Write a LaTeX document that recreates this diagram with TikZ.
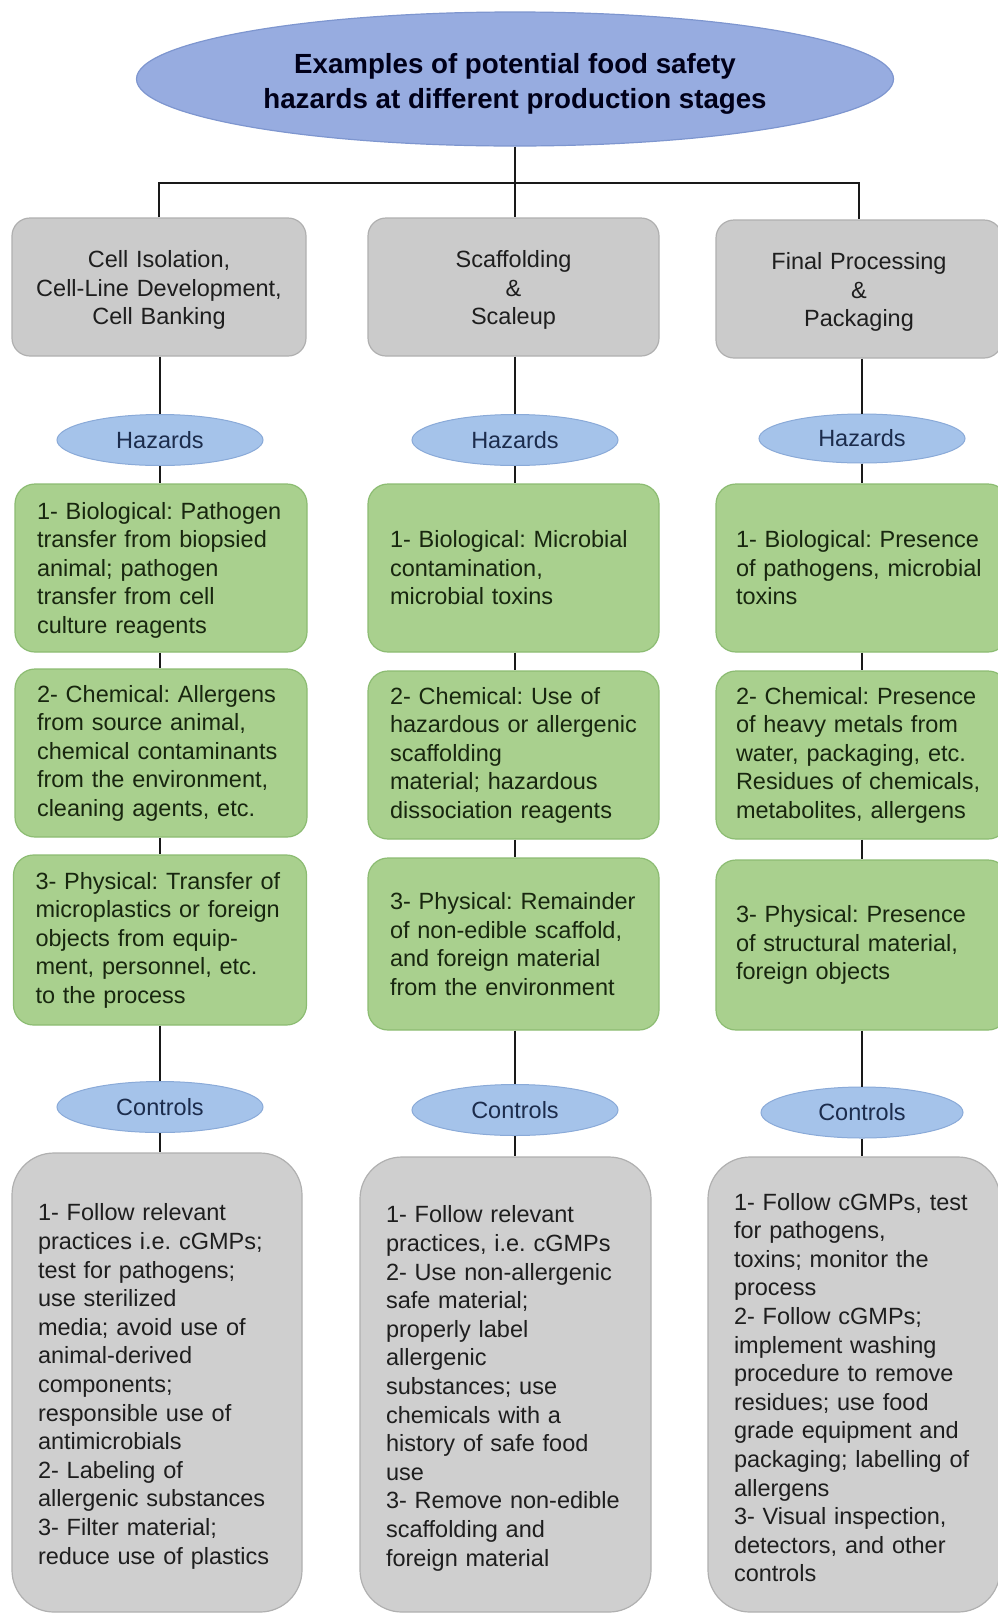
\documentclass[tikz,border=0pt]{standalone}
\usepackage{fontspec}
\setmainfont{Liberation Sans}
\usetikzlibrary{shapes.geometric}
\frenchspacing
\hyphenpenalty=10000
\exhyphenpenalty=10000

\definecolor{titlefill}{HTML}{97ACE0}
\definecolor{titleline}{HTML}{7E96CF}
\definecolor{ovalfill}{HTML}{A5C3EA}
\definecolor{ovalline}{HTML}{8AAAD8}
\definecolor{ovaltext}{HTML}{1C2C4C}
\definecolor{greyfill}{HTML}{CBCBCB}
\definecolor{greyline}{HTML}{B0B0B0}
\definecolor{greenfill}{HTML}{A9D08E}
\definecolor{greenline}{HTML}{8CBC72}
\definecolor{greentext}{HTML}{18260F}
\definecolor{darktext}{HTML}{1E1E1E}

% raises the first line of a text block to push the block down a little
\newcommand\firstline[1]{\rule{0pt}{#1pt}}

\tikzset{
  x=1pt, y=-1pt,
  base/.style={font=\fontsize{23.5}{28.5}\selectfont, inner ysep=0pt},
  stagebox/.style={base, draw=greyline, fill=greyfill, line width=1.2,
    rounded corners=18, align=center, text=darktext,
    minimum height=138, inner xsep=0pt},
  hazbox/.style={base, draw=greenline, fill=greenfill, line width=1.2,
    rounded corners=20, align=left, text=greentext, minimum height=168,
    inner xsep=22},
  ctrlbox/.style={base, font=\fontsize{23.5}{28.6}\selectfont,
    draw=greyline, fill=greyfill!92!white, line width=1.2,
    rounded corners=42, align=left, text=darktext, minimum height=455,
    inner xsep=26},
  oval/.style={base, ellipse, draw=ovalline, fill=ovalfill, line width=1,
    inner sep=0pt, minimum width=206, minimum height=51, text=ovaltext},
  link/.style={line width=2.5, draw=black!90},
}

\begin{document}
\begin{tikzpicture}
\useasboundingbox (0,0) rectangle (998,1615);
\fill[white] (0,0) rectangle (998,1615);

% root
\node[ellipse, draw=titleline, fill=titlefill, line width=1.2, inner sep=0pt,
      minimum width=757, minimum height=134,
      label={[yshift=-5pt, align=center, text=black!90!blue,
              font=\fontsize{27.7}{34.5}\selectfont\bfseries]center:
             Examples of potential food safety\\hazards at different production stages}]
  (title) at (515,79) {};

% production stages
\node[stagebox, text width=294] (st1) at (159,287)
  {\firstline{23}Cell Isolation,\\Cell-Line Development,\\Cell Banking};
\node[stagebox, text width=291] (st2) at (513.5,287)
  {\firstline{23}Scaffolding\\\&\\Scaleup};
\node[stagebox, text width=286] (st3) at (859,289)
  {\firstline{23}Final Processing\\\&\\Packaging};

% hazards labels
\node[oval] (hz1) at (160,440) {Hazards};
\node[oval] (hz2) at (515,440) {Hazards};
\node[oval, minimum height=49] (hz3) at (862,438.5) {Hazards};

% hazards, column 1
\node[hazbox, text width=248] (a1) at (161,568)
  {\firstline{21}1- Biological: Pathogen\\transfer from biopsied\\animal; pathogen\\transfer from cell\\culture reagents};
\node[hazbox, text width=248] (a2) at (161,753)
  {2- Chemical: Allergens\\from source animal,\\chemical contaminants\\from the environment,\\cleaning agents, etc.};
\node[hazbox, text width=249, minimum height=170] (a3) at (160,940)
  {3- Physical: Transfer of\\microplastics or foreign\\objects from equip-\\ment, personnel, etc.\\to the process};

% hazards, column 2
\node[hazbox, text width=247] (b1) at (513.5,568)
  {1- Biological: Microbial\\contamination,\\microbial toxins};
\node[hazbox, text width=247] (b2) at (513.5,755)
  {2- Chemical: Use of\\hazardous or allergenic\\scaffolding\\material; hazardous\\dissociation reagents};
\node[hazbox, text width=247, minimum height=172] (b3) at (513.5,944)
  {3- Physical: Remainder\\of non-edible scaffold,\\and foreign material\\from the environment};

% hazards, column 3
\node[hazbox, text width=252, inner xsep=20] (c1) at (862,568)
  {1- Biological: Presence\\of pathogens, microbial\\toxins};
\node[hazbox, text width=252, inner xsep=20] (c2) at (862,755)
  {2- Chemical: Presence\\of heavy metals from\\water, packaging, etc.\\Residues of chemicals,\\metabolites, allergens};
\node[hazbox, text width=252, inner xsep=20, minimum height=170] (c3) at (862,945)
  {3- Physical: Presence\\of structural material,\\foreign objects};

% controls labels
\node[oval] (ct1) at (160,1107) {Controls};
\node[oval] (ct2) at (515,1110) {Controls};
\node[oval, minimum width=202] (ct3) at (862,1112.5) {Controls};

% controls
\node[ctrlbox, text width=238, minimum height=459] (d1) at (157,1382.5)
  {\firstline{25}1- Follow relevant\\practices i.e. cGMPs;\\test for pathogens;\\use sterilized\\media; avoid use of\\animal-derived\\components;\\responsible use of\\antimicrobials\\2- Labeling of\\allergenic substances\\3- Filter material;\\reduce use of plastics};
\node[ctrlbox, text width=239] (d2) at (505.5,1384.5)
  {\firstline{25}1- Follow relevant\\practices, i.e. cGMPs\\2- Use non-allergenic\\safe material;\\properly label\\allergenic\\substances; use\\chemicals with a\\history of safe food\\use\\3- Remove non-edible\\scaffolding and\\foreign material};
\node[ctrlbox, text width=240] (d3) at (854,1384.5)
  {\firstline{23}1- Follow cGMPs, test\\for pathogens,\\toxins; monitor the\\process\\2- Follow cGMPs;\\implement washing\\procedure to remove\\residues; use food\\grade equipment and\\packaging; labelling of\\allergens\\3- Visual inspection,\\detectors, and other\\controls};

% tree connectors from the root
\coordinate (bar) at (515,183);
\draw[link] (title.south) -- (bar);
\draw[link] (st1.north) |- (bar) -| (st3.north);
\draw[link] (bar) -- (bar |- st2.north);

% column connectors
\foreach \s/\h/\p/\q/\r/\c/\k in {st1/hz1/a1/a2/a3/ct1/d1, st2/hz2/b1/b2/b3/ct2/d2, st3/hz3/c1/c2/c3/ct3/d3}{
  \draw[link] (\s.south -| \h) -- (\h.north);
  \draw[link] (\h.south) -- (\p.north -| \h);
  \draw[link] (\p.south -| \h) -- (\q.north -| \h);
  \draw[link] (\q.south -| \h) -- (\r.north -| \h);
  \draw[link] (\r.south -| \c) -- (\c.north);
  \draw[link] (\c.south) -- (\k.north -| \c);
}
\end{tikzpicture}
\end{document}
